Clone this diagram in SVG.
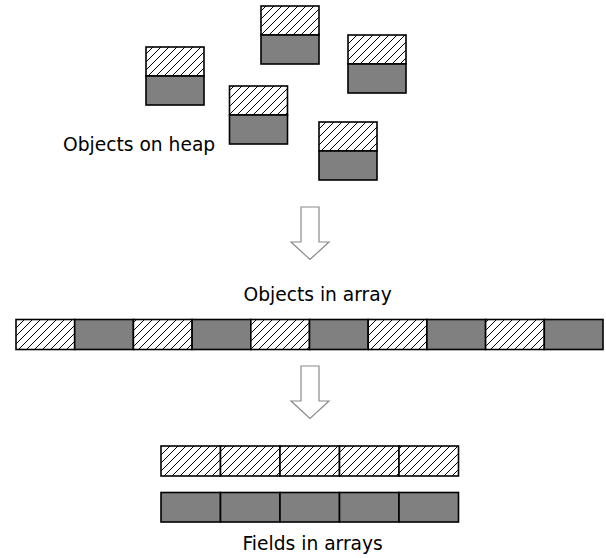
<svg xmlns="http://www.w3.org/2000/svg" width="606" height="558" viewBox="0 0 606 558">
<defs>
<pattern id="hatch" patternUnits="userSpaceOnUse" width="8" height="8">
<rect width="8" height="8" fill="#fff"/>
<path d="M0,8 L8,0 M-2,2 L2,-2 M6,10 L10,6" stroke="#000" stroke-width="1"/>
</pattern>
</defs>
<style>
.h{fill:url(#hatch);stroke:#000;stroke-width:1.6}
.g{fill:#808080;stroke:#000;stroke-width:1.6}
.t{font-family:"DejaVu Sans",sans-serif;font-size:18.67px;fill:#000}
.arr{fill:#fff;stroke:#8a8a8a;stroke-width:1.2}
</style>
<rect width="606" height="558" fill="#fff"/>
<g id="obj1"><rect class="h" x="146" y="47" width="58" height="29"/><rect class="g" x="146" y="76" width="58" height="29"/></g>
<g id="obj2"><rect class="h" x="261" y="6" width="58" height="29"/><rect class="g" x="261" y="35" width="58" height="29"/></g>
<g id="obj3"><rect class="h" x="348" y="35" width="58" height="29"/><rect class="g" x="348" y="64" width="58" height="29"/></g>
<g id="obj4"><rect class="h" x="229.5" y="86" width="58" height="29"/><rect class="g" x="229.5" y="115" width="58" height="29"/></g>
<g id="obj5"><rect class="h" x="319" y="122" width="58" height="29"/><rect class="g" x="319" y="151" width="58" height="29"/></g>
<text class="t" x="63" y="150.5">Objects on heap</text>
<g id="connectors">
<path class="arr" d="M301,207 H319 V242 H329 L310,259.5 L291,242 H301 Z"/>
<path class="arr" d="M301,366 H319 V401 H329 L310,418.5 L291,401 H301 Z"/>
</g>
<text class="t" x="243.5" y="300.5">Objects in array</text>
<g id="array">
<rect class="h" x="16" y="319.5" width="58.7" height="30"/>
<rect class="g" x="74.7" y="319.5" width="58.7" height="30"/>
<rect class="h" x="133.4" y="319.5" width="58.7" height="30"/>
<rect class="g" x="192.1" y="319.5" width="58.7" height="30"/>
<rect class="h" x="250.8" y="319.5" width="58.7" height="30"/>
<rect class="g" x="309.5" y="319.5" width="58.7" height="30"/>
<rect class="h" x="368.2" y="319.5" width="58.7" height="30"/>
<rect class="g" x="426.9" y="319.5" width="58.7" height="30"/>
<rect class="h" x="485.6" y="319.5" width="58.7" height="30"/>
<rect class="g" x="544.3" y="319.5" width="58.7" height="30"/>
</g>
<g id="fields1">
<rect class="h" x="161" y="446" width="59.5" height="30"/>
<rect class="h" x="220.5" y="446" width="59.5" height="30"/>
<rect class="h" x="280" y="446" width="59.5" height="30"/>
<rect class="h" x="339.5" y="446" width="59.5" height="30"/>
<rect class="h" x="399" y="446" width="59.5" height="30"/>
</g>
<g id="fields2">
<rect class="g" x="161" y="492.5" width="59.5" height="29.5"/>
<rect class="g" x="220.5" y="492.5" width="59.5" height="29.5"/>
<rect class="g" x="280" y="492.5" width="59.5" height="29.5"/>
<rect class="g" x="339.5" y="492.5" width="59.5" height="29.5"/>
<rect class="g" x="399" y="492.5" width="59.5" height="29.5"/>
</g>
<text class="t" x="242.5" y="550">Fields in arrays</text>
</svg>
